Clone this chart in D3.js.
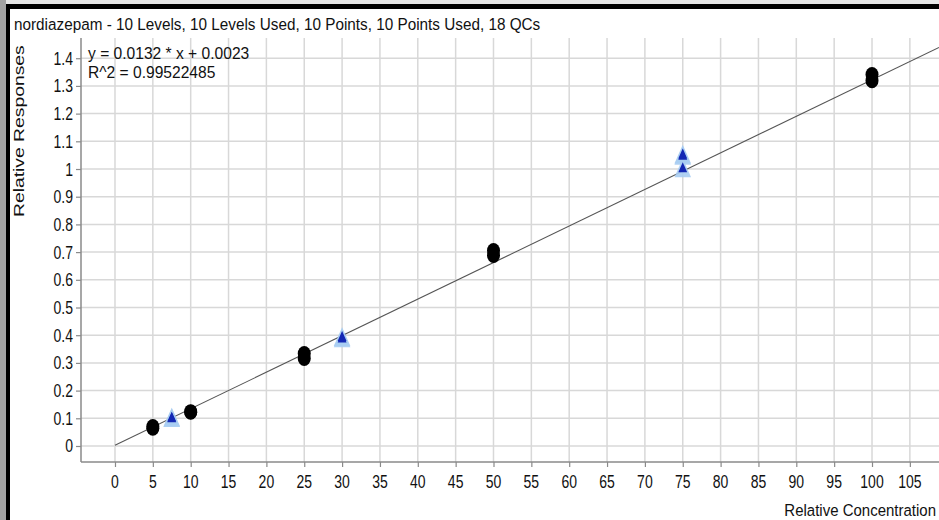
<!DOCTYPE html>
<html>
<head>
<meta charset="utf-8">
<script src="https://cdn.jsdelivr.net/npm/d3@7"></script>
<style>
  html, body { margin: 0; padding: 0; background: #fff; }
  svg { display: block; font-family: "Liberation Sans", Arial, sans-serif; }
</style>
</head>
<body>
<div id="chart"></div>
<script>
// calibration points (relative concentration, relative response)
const calX = [5, 5, 10, 10, 25, 25, 50, 50, 100, 100];
const calY = [0.064, 0.070, 0.122, 0.124, 0.334, 0.316, 0.706, 0.688, 1.341, 1.319];
// QC points
const qcX = [7.5, 7.5, 30, 30, 75, 75, 75];
const qcY = [0.100, 0.098, 0.391, 0.386, 1.050, 1.045, 1.000];
// fit
const slope = 0.0132;
const intercept = 0.0023;
const titleText = 'nordiazepam - 10 Levels, 10 Levels Used, 10 Points, 10 Points Used, 18 QCs';
const eqText = 'y = 0.0132 * x  + 0.0023';
const r2Text = 'R^2 = 0.99522485';
const xTicks = d3.range(0, 110, 5);
const yTicks = [0, 0.1, 0.2, 0.3, 0.4, 0.5, 0.6, 0.7, 0.8, 0.9, 1, 1.1, 1.2, 1.3, 1.4];
const yTickLabels = ['0', '0.1', '0.2', '0.3', '0.4', '0.5', '0.6', '0.7', '0.8', '0.9', '1', '1.1', '1.2', '1.3', '1.4'];

const W = 939, H = 520;

const svg = d3.select('#chart').append('svg').attr('width', W).attr('height', H);

// frame
svg.append('rect').attr('x', 0).attr('y', 0).attr('width', 6).attr('height', H).attr('fill', '#a3a3a3');
svg.append('rect').attr('x', 6).attr('y', 0).attr('width', W - 6).attr('height', 4).attr('fill', '#e6e6e6');
svg.append('rect').attr('x', 6).attr('y', 4).attr('width', 4).attr('height', H - 4).attr('fill', '#000');
svg.append('rect').attr('x', 6).attr('y', 4).attr('width', W - 6).attr('height', 5).attr('fill', '#000');

const plotL = 81, plotR = 939, plotT = 38, plotB = 462;

const x = d3.scaleLinear().domain([-4.49, 108.85]).range([plotL, plotR]);
const y = d3.scaleLinear().domain([-0.0578, 1.473]).range([plotB, plotT]);

// glyphs in the original are stretched vertically, so scale text in y
function stretchedText(px, py, str, size, sy, anchor) {
  const g = svg.append('g').attr('transform', 'translate(' + px + ',' + py + ') scale(1,' + sy + ')');
  return g.append('text').attr('x', 0).attr('y', 0)
    .attr('font-size', size).attr('text-anchor', anchor || 'start')
    .attr('fill', '#111').text(str);
}

// grid
const grid = svg.append('g');
grid.selectAll('.vg').data(xTicks).enter().append('line')
  .attr('x1', d => x(d)).attr('x2', d => x(d))
  .attr('y1', plotT).attr('y2', plotB)
  .attr('stroke', '#d8d8d8').attr('stroke-width', 1.5);
grid.selectAll('.hg').data(yTicks).enter().append('line')
  .attr('x1', plotL).attr('x2', plotR)
  .attr('y1', d => y(d)).attr('y2', d => y(d))
  .attr('stroke', '#d8d8d8').attr('stroke-width', 1.5);

// axes
const xAxis = svg.append('g')
  .attr('transform', 'translate(0,' + plotB + ')')
  .call(d3.axisBottom(x).tickValues(xTicks).tickSize(5).tickFormat(''));
const yAxis = svg.append('g')
  .attr('transform', 'translate(' + plotL + ',0)')
  .call(d3.axisLeft(y).tickValues(yTicks).tickSize(5).tickFormat(''));
[xAxis, yAxis].forEach(a => {
  a.select('.domain').attr('stroke', '#8a8a8a').attr('stroke-width', 1.5);
  a.selectAll('.tick line').attr('stroke', '#8a8a8a').attr('stroke-width', 1.2);
});
// extend domains to the frame edges
xAxis.select('.domain').attr('d', 'M' + plotL + ',0H' + plotR);
yAxis.select('.domain').attr('d', 'M0,' + plotT + 'V' + plotB);

// tick labels
xTicks.forEach(v => stretchedText(x(v), 488, String(v), 14, 1.35, 'middle'));
yTicks.forEach((v, i) => stretchedText(73, y(v) + 6.5, yTickLabels[i], 14, 1.3, 'end'));

// axis titles (the original is cut at the right edge; keep it just inside)
stretchedText(936, 516, 'Relative Concentration', 15, 1.15, 'end');
svg.append('g').attr('transform', 'translate(24,217) rotate(-90) scale(1.38,1)')
  .append('text').attr('font-size', 14).attr('fill', '#111').text('Relative Responses');

// title and equation
stretchedText(14, 30, titleText, 15.3, 1.1);
stretchedText(88, 59, eqText, 15.6, 1.05);
stretchedText(88, 78, r2Text, 15.6, 1.05);

// regression line
const fitX = [0, x.domain()[1]];
svg.append('path')
  .datum(fitX)
  .attr('fill', 'none').attr('stroke', '#555').attr('stroke-width', 1.1)
  .attr('d', d3.line().x(d => x(d)).y(d => y(slope * d + intercept)));

// calibration points
svg.append('g').selectAll('ellipse').data(calX).enter().append('ellipse')
  .attr('cx', d => x(d)).attr('cy', (d, i) => y(calY[i]))
  .attr('rx', 6.5).attr('ry', 7.5).attr('fill', '#000');

// QC triangles: light halo then dark triangle
const tri = d3.symbol().type(d3.symbolTriangle);
const qc = svg.append('g');
qc.selectAll('.halo').data(qcX).enter().append('path')
  .attr('transform', (d, i) => 'translate(' + x(d) + ',' + (y(qcY[i]) + 2) + ') scale(1,1.3)')
  .attr('d', tri.size(120)()).attr('fill', '#a9cdf2').attr('opacity', 0.9);
qc.selectAll('.dark').data(qcX).enter().append('path')
  .attr('transform', (d, i) => 'translate(' + x(d) + ',' + y(qcY[i]) + ') scale(1,1.3)')
  .attr('d', tri.size(34)()).attr('fill', '#1428b4');
</script>
</body>
</html>
